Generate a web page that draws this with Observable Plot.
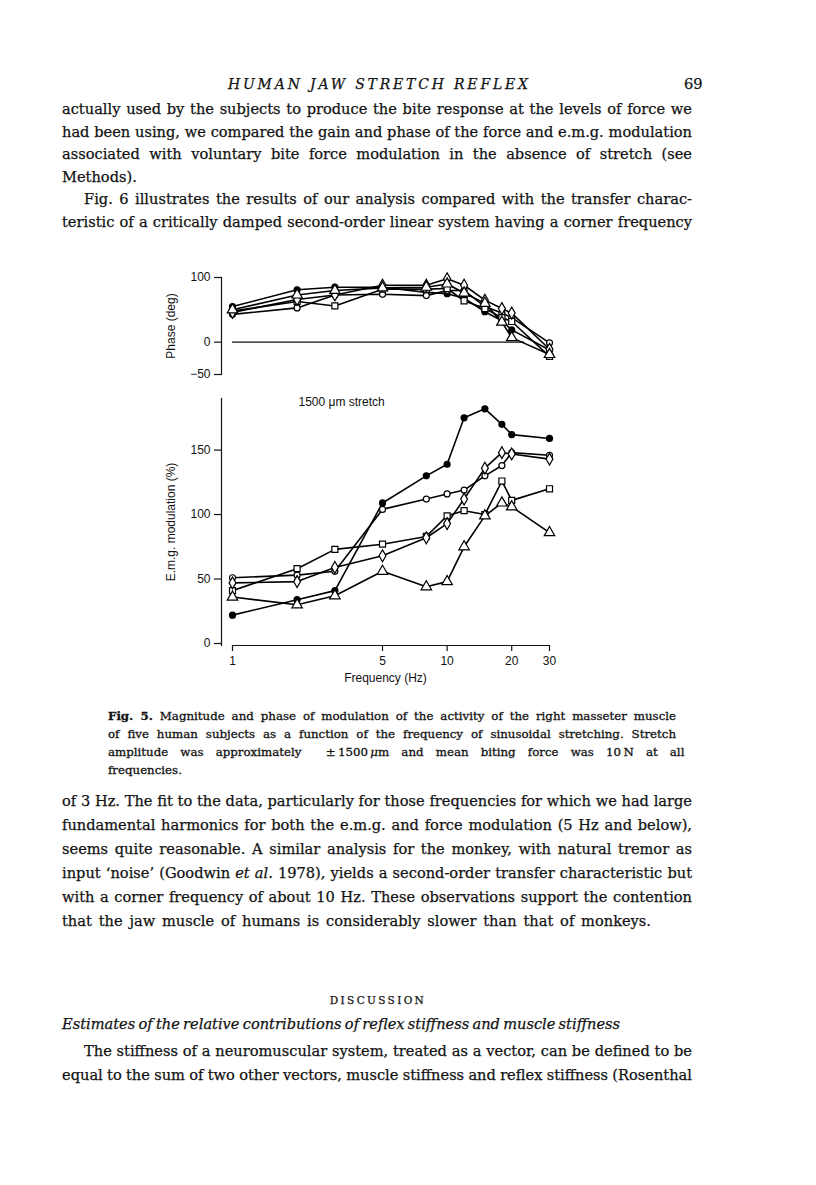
<!DOCTYPE html>
<html>
<head>
<meta charset="utf-8">
<script src="https://cdn.jsdelivr.net/npm/d3@7"></script>
<script src="https://cdn.jsdelivr.net/npm/@observablehq/plot@0.6"></script>
<style>
  html, body { margin: 0; padding: 0; background: #fff; }
  body { width: 816px; height: 1185px; position: relative; overflow: hidden; color: #121212; }
  .ln { position: absolute; white-space: nowrap; font-family: "DejaVu Serif", "Liberation Serif", serif;
        font-size: 14.6px; line-height: 24px; -webkit-text-stroke: 0.25px #121212; }
  .cap { font-size: 11.8px; line-height: 18px; -webkit-text-stroke: 0.3px #121212; }
  .hd { font-style: italic; font-size: 14px; }
  .sc { font-size: 10.5px; }
  .chart { position: absolute; }
  .chart svg { background: transparent !important; overflow: visible; }
</style>
</head>
<body>
<div id="top" class="chart" style="left:140px; top:262px; z-index:2"></div>
<div id="bot" class="chart" style="left:140px; top:380px; z-index:1"></div>
<script>
// ---------- chart data ----------
const freqs = [1, 2, 3, 5, 8, 10, 12, 15, 18, 20, 30];
const xTicks = [1, 5, 10, 20, 30];
const phaseTicks = [-50, 0, 100];
const emgTicks = [0, 50, 100, 150];

// Phase (deg), five subjects
const phaseFilled   = [55, 81, 85, 85, 77, 75, 68, 47, 33, 19, -12];
const phaseCircle   = [43, 53, 73, 74, 72, 80, 80, 55, 45, 38, -1];
const phaseSquare   = [48, 63, 56, 82, 82, 83, 64, 52, 38, 32, -22];
const phaseDiamond  = [46, 66, 73, 88, 88, 98, 88, 65, 52, 45, -11];
const phaseTriangle = [50, 73, 80, 84, 85, 90, 76, 60, 31, 7, -19];

// E.m.g. modulation (%), five subjects
const emgFilled   = [22, 34, 41, 109, 130, 139, 175, 182, 170, 162, 159];
const emgCircle   = [51, 53, 56, 104, 112, 116, 119, 130, 138, 148, 146];
const emgSquare   = [41, 58, 73, 77, 83, 99, 103, 100, 126, 111, 120];
const emgDiamond  = [47, 48, 59, 68, 82, 93, 112, 136, 148, 147, 143];
const emgTriangle = [36, 30, 37, 56, 44, 48, 75, 99, 109, 106, 86];

const subjects = ["filled", "circle", "square", "diamond", "triangle"];
const symbolStyle = {
  filled:   {symbol: "circle",   fill: "black", r: 3},
  circle:   {symbol: "circle",   fill: "white", r: 3},
  square:   {symbol: "square",   fill: "white", r: 3.4},
  diamond:  {symbol: "diamond",  fill: "white", r: 3.6},
  triangle: {symbol: "triangle", fill: "white", r: 3.9}
};

function toRows(arrays) {
  return arrays.flatMap((arr, i) => arr.map((v, j) => ({f: freqs[j], v, s: subjects[i]})));
}
const phaseRows = toRows([phaseFilled, phaseCircle, phaseSquare, phaseDiamond, phaseTriangle]);
const emgRows = toRows([emgFilled, emgCircle, emgSquare, emgDiamond, emgTriangle]);

function seriesMarks(rows) {
  const marks = [Plot.line(rows, {x: "f", y: "v", z: "s", stroke: "black", strokeWidth: 1.6})];
  for (const s of subjects) {
    const st = symbolStyle[s];
    marks.push(Plot.dot(rows.filter(d => d.s === s), {
      x: "f", y: "v", symbol: st.symbol, fill: st.fill, r: st.r, stroke: "black", strokeWidth: 1.2
    }));
  }
  return marks;
}

const font = {fontFamily: "'Liberation Sans', Arial, Helvetica, sans-serif", fontSize: "12px", background: "transparent", color: "#121212"};
const xScale = {type: "log", domain: [1, 30], insetLeft: 11};

const topChart = Plot.plot({
  width: 440, height: 125, marginLeft: 81, marginRight: 31, marginTop: 15, marginBottom: 13,
  style: font,
  x: {...xScale, axis: null},
  y: {domain: [-50, 100]},
  marks: [
    Plot.frame({anchor: "left", strokeWidth: 1.2}),
    Plot.axisY({ticks: phaseTicks, tickSize: 7, tickPadding: 4, strokeWidth: 1.2,
      label: "Phase (deg)", labelAnchor: "center", labelArrow: "none", labelOffset: 55}),
    Plot.ruleY([0], {x1: 1, x2: 23, strokeWidth: 1.1}),
    ...seriesMarks(phaseRows)
  ]
});
document.getElementById("top").appendChild(topChart);

const botChart = Plot.plot({
  width: 440, height: 320, marginLeft: 81, marginRight: 31, marginTop: 18, marginBottom: 55,
  style: font,
  x: xScale,
  y: {domain: [0, 190], insetBottom: 2},
  marks: [
    Plot.frame({anchor: "left", strokeWidth: 1.2}),
    Plot.axisY({ticks: emgTicks, tickSize: 7, tickPadding: 4, strokeWidth: 1.2,
      label: "E.m.g. modulation (%)", labelAnchor: "center", labelArrow: "none", labelOffset: 55}),
    Plot.axisX({ticks: xTicks, tickFormat: d => String(d), tickSize: 6, tickPadding: 5, strokeWidth: 1.2,
      label: "Frequency (Hz)", labelAnchor: "center", labelArrow: "none", labelOffset: 36}),
    Plot.ruleY([0], {x1: 1, x2: 30, dy: 2, strokeWidth: 1.2}),
    Plot.text(["1500 \u03bcm stretch"], {frameAnchor: "top-left", dx: 77, dy: 4, textAnchor: "start", lineAnchor: "middle"}),
    ...seriesMarks(emgRows)
  ]
});
document.getElementById("bot").appendChild(botChart);

// ---------- page text ----------
function place(html, x, yc, opts = {}) {
  const d = document.createElement("div");
  d.className = "ln " + (opts.cls || "");
  d.innerHTML = html;
  document.body.appendChild(d);
  const lh = parseFloat(getComputedStyle(d).lineHeight);
  d.style.left = x + "px";
  d.style.top = (yc - lh / 2) + "px";
  const nat = d.getBoundingClientRect().width;
  if (opts.w) {
    const n = (d.textContent.match(/ /g) || []).length;
    if (n) d.style.wordSpacing = ((opts.w - nat) / n) + "px";
  }
  if (opts.lw) {
    const n = d.textContent.length;
    d.style.letterSpacing = ((opts.lw - nat) / (n - 1)) + "px";
  }
  if (opts.center != null) {
    const w2 = d.getBoundingClientRect().width;
    d.style.left = (opts.center - w2 / 2) + "px";
  }
  return d;
}

place("HUMAN JAW STRETCH REFLEX", 228, 84, {cls: "hd", lw: 300});
place("69", 684, 84);

const para1 = [
  "actually used by the subjects to produce the bite response at the levels of force we",
  "had been using, we compared the gain and phase of the force and e.m.g. modulation",
  "associated with voluntary bite force modulation in the absence of stretch (see",
  "Methods).",
  "Fig. 6 illustrates the results of our analysis compared with the transfer charac-",
  "teristic of a critically damped second-order linear system having a corner frequency"
];
const p1y = [109, 131.5, 154, 176.5, 199, 221.5];
para1.forEach((t, i) => {
  const indent = i === 4 ? 22 : 0;
  const just = i !== 3;
  place(t, 62 + indent, p1y[i], just ? {w: 630 - indent} : {});
});

const caption = [
  "<b>Fig. 5.</b> Magnitude and phase of modulation of the activity of the right masseter muscle",
  "of five human subjects as a function of the frequency of sinusoidal stretching. Stretch",
  "amplitude was approximately &nbsp;\u00b1\u20091500\u2009<i>\u03bc</i>m and mean biting force was 10\u2009N at all",
  "frequencies."
];
const capY = [716, 734, 752, 770];
caption.forEach((t, i) => place(t, 108, capY[i], i < 3 ? {cls: "cap", w: 568} : {cls: "cap"}));

const para2 = [
  "of 3 Hz. The fit to the data, particularly for those frequencies for which we had large",
  "fundamental harmonics for both the e.m.g. and force modulation (5 Hz and below),",
  "seems quite reasonable. A similar analysis for the monkey, with natural tremor as",
  "input \u2018noise\u2019 (Goodwin <i>et al</i>. 1978), yields a second-order transfer characteristic but",
  "with a corner frequency of about 10 Hz. These observations support the contention",
  "that the jaw muscle of humans is considerably slower than that of monkeys."
];
const p2y = [801, 825, 849, 873, 897, 921];
para2.forEach((t, i) => place(t, 62, p2y[i], i < 5 ? {w: 630} : {w: 589}));

place("DISCUSSION", 0, 1000, {cls: "sc", lw: 94, center: 378});
place("<i>Estimates of the relative contributions of reflex stiffness and muscle stiffness</i>", 62, 1024, {w: 558});
place("The stiffness of a neuromuscular system, treated as a vector, can be defined to be", 84, 1051, {w: 608});
place("equal to the sum of two other vectors, muscle stiffness and reflex stiffness (Rosenthal", 62, 1075, {w: 630});
</script>
</body>
</html>
